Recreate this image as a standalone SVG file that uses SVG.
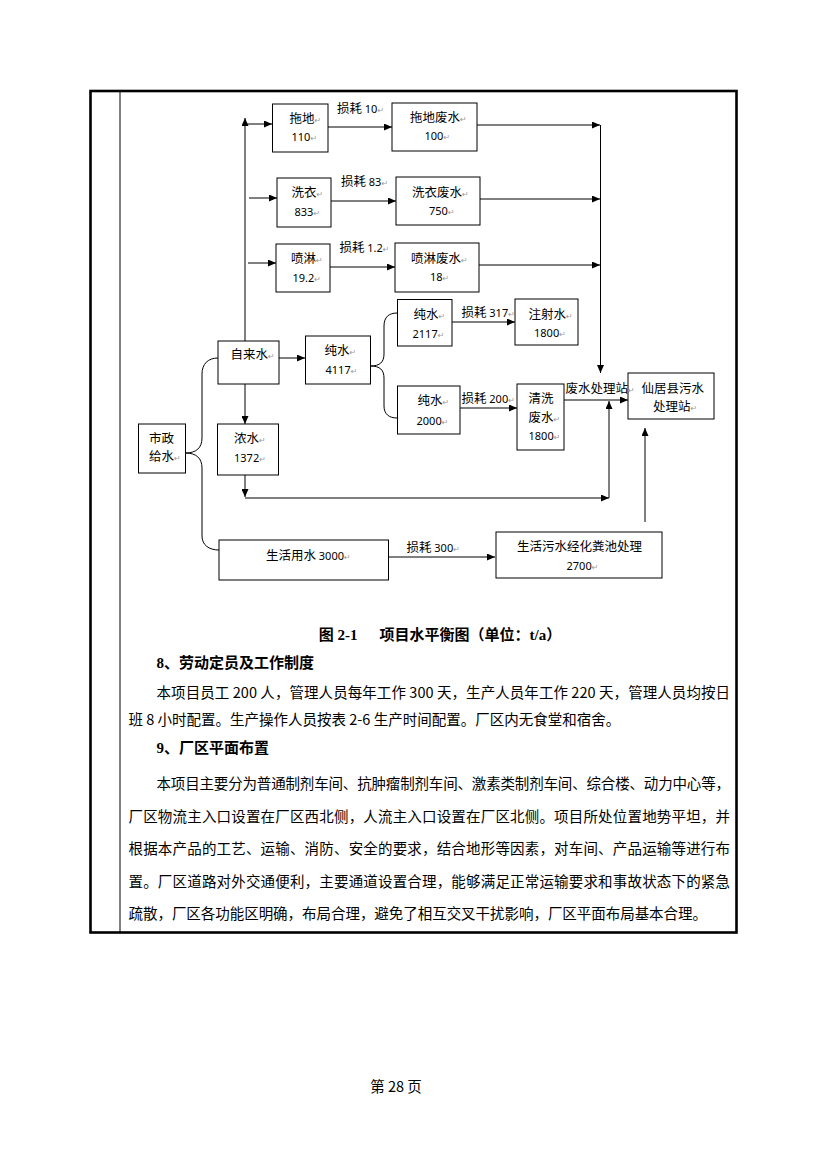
<svg xmlns="http://www.w3.org/2000/svg" width="827" height="1170" viewBox="0 0 827 1170">
<style>
.bx{fill:#fff;stroke:#000;stroke-width:1}
.t{font-family:"Noto Sans CJK SC","Noto Sans",sans-serif;font-size:12.5px;fill:#000}
.n{font-family:"Noto Sans","Noto Sans CJK SC",sans-serif;font-size:11px;fill:#000}
.pm{font-family:"DejaVu Sans",sans-serif;font-size:8px;fill:#999}
.ln{fill:none;stroke:#000;stroke-width:1}
.ar{marker-end:url(#ah)}
.p{font-family:"Noto Sans CJK SC",sans-serif;font-size:14.5px;fill:#000}
.h{font-family:"Liberation Serif","Noto Sans CJK SC",serif;font-size:15px;font-weight:bold;fill:#000}
</style>
<defs>
<marker id="ah" markerUnits="userSpaceOnUse" markerWidth="8" markerHeight="7" refX="8" refY="3.5" orient="auto">
<path d="M0,0 L8,3.5 L0,7 z" fill="#000"/>
</marker>
</defs>
<rect width="827" height="1170" fill="#fff"/>
<g id="frame">
<rect x="90.5" y="91" width="646" height="841.5" fill="none" stroke="#000" stroke-width="2.6"/>
<line x1="120" y1="91" x2="120" y2="932.5" stroke="#000" stroke-width="1"/>
</g>
<g id="connectors">
<path class="ln ar" d="M245,341 L245,118"/>
<path class="ln ar" d="M245,124 L272,124"/>
<path class="ln ar" d="M249,198 L277,198"/>
<path class="ln ar" d="M248,263 L276,263"/>
<path class="ln ar" d="M328,127 L392,127"/>
<path class="ln ar" d="M331,201 L396,201"/>
<path class="ln ar" d="M330,267 L395,267"/>
<path class="ln ar" d="M477,125 L600,125"/>
<path class="ln ar" d="M480,199 L600,199"/>
<path class="ln ar" d="M479,265 L600,265"/>
<path class="ln ar" d="M600.5,125 L600.5,373"/>
<path class="ln ar" d="M279,358 L305,358"/>
<path class="ln" d="M370.5,366 C380,366 384,362 384,354 L384,326 C384,317 389,313 397,313"/>
<path class="ln" d="M370.5,366 C380,366 384,370 384,378 L384,406 C384,414 389,418 397,418"/>
<path class="ln ar" d="M452,322 L515,322"/>
<path class="ln ar" d="M460,408 L517,408"/>
<path class="ln ar" d="M564,400 L628,400"/>
<path class="ln ar" d="M245,384 L245,424"/>
<path class="ln ar" d="M245,475 L245,497"/>
<path class="ln ar" d="M245,498 L609,498"/>
<path class="ln ar" d="M609,498 L609,401"/>
<path class="ln" d="M185.5,453 C196,453 202,448 202,438 L202,374 C202,364 208,358 218,358"/>
<path class="ln" d="M185.5,453 C196,453 202,458 202,468 L202,536 C202,545 209,550 219,550"/>
<path class="ln ar" d="M389,557 L495,557"/>
<path class="ln ar" d="M645,522 L645,428"/>
</g>
<g id="n-tuodi"><rect class="bx" x="272.5" y="104" width="55.5" height="48"/><text class="t" x="289.5" y="123">拖地<tspan class="pm">↵</tspan></text><text class="n" x="291.5" y="141">110<tspan class="pm">↵</tspan></text></g>
<g id="n-tuodifs"><rect class="bx" x="392" y="103" width="85" height="48"/><text class="t" x="410" y="122">拖地废水<tspan class="pm">↵</tspan></text><text class="n" x="424.5" y="140">100<tspan class="pm">↵</tspan></text></g>
<g id="n-xiyi"><rect class="bx" x="277" y="178" width="54" height="49"/><text class="t" x="291.5" y="197">洗衣<tspan class="pm">↵</tspan></text><text class="n" x="294.5" y="215.5">833<tspan class="pm">↵</tspan></text></g>
<g id="n-xiyifs"><rect class="bx" x="396" y="177" width="84" height="48"/><text class="t" x="412" y="197">洗衣废水<tspan class="pm">↵</tspan></text><text class="n" x="429" y="215">750<tspan class="pm">↵</tspan></text></g>
<g id="n-penlin"><rect class="bx" x="276" y="244" width="54" height="48"/><text class="t" x="291" y="263">喷淋<tspan class="pm">↵</tspan></text><text class="n" x="292.5" y="282">19.2<tspan class="pm">↵</tspan></text></g>
<g id="n-penlinfs"><rect class="bx" x="395" y="243" width="84" height="49"/><text class="t" x="411" y="262.5">喷淋废水<tspan class="pm">↵</tspan></text><text class="n" x="430" y="281">18<tspan class="pm">↵</tspan></text></g>
<g id="n-chun2117"><rect class="bx" x="397.5" y="299.5" width="54.5" height="46.5"/><text class="t" x="413.5" y="318.5">纯水<tspan class="pm">↵</tspan></text><text class="n" x="412.5" y="338">2117<tspan class="pm">↵</tspan></text></g>
<g id="n-zhushe"><rect class="bx" x="515" y="299" width="63" height="46"/><text class="t" x="528.5" y="318.5">注射水<tspan class="pm">↵</tspan></text><text class="n" x="534" y="337">1800<tspan class="pm">↵</tspan></text></g>
<g id="n-zilai"><rect class="bx" x="218" y="341" width="61" height="43"/><text class="t" x="230.5" y="359">自来水<tspan class="pm">↵</tspan></text></g>
<g id="n-chun4117"><rect class="bx" x="305.5" y="336" width="65" height="48"/><text class="t" x="324.5" y="355">纯水<tspan class="pm">↵</tspan></text><text class="n" x="325.5" y="374">4117<tspan class="pm">↵</tspan></text></g>
<g id="n-chun2000"><rect class="bx" x="397.5" y="386" width="62.5" height="48"/><text class="t" x="417.5" y="404.5">纯水<tspan class="pm">↵</tspan></text><text class="n" x="416.5" y="424.5">2000<tspan class="pm">↵</tspan></text></g>
<g id="n-qingxi"><rect class="bx" x="517" y="384" width="47" height="66"/><text class="t" x="528.5" y="403">清洗</text><text class="t" x="528.5" y="422">废水<tspan class="pm">↵</tspan></text><text class="n" x="528.5" y="439.5">1800<tspan class="pm">↵</tspan></text></g>
<g id="n-xianju"><rect class="bx" x="628" y="373" width="86" height="46"/><text class="t" x="641.5" y="393">仙居县污水</text><text class="t" x="653" y="411">处理站<tspan class="pm">↵</tspan></text></g>
<g id="n-shizheng"><rect class="bx" x="138.5" y="424" width="47" height="49"/><text class="t" x="149" y="443">市政</text><text class="t" x="149" y="461">给水<tspan class="pm">↵</tspan></text></g>
<g id="n-nong"><rect class="bx" x="217.5" y="424" width="61" height="51"/><text class="t" x="234" y="443">浓水<tspan class="pm">↵</tspan></text><text class="n" x="234" y="462">1372<tspan class="pm">↵</tspan></text></g>
<g id="n-shenghuo"><rect class="bx" x="219" y="540" width="169.5" height="40"/><text class="t" x="266" y="559.5">生活用水 <tspan class="n">3000</tspan><tspan class="pm">↵</tspan></text></g>
<g id="n-huafen"><rect class="bx" x="496" y="532" width="166" height="46"/><text class="t" x="517" y="551">生活污水经化粪池处理</text><text class="n" x="566.5" y="569.5">2700<tspan class="pm">↵</tspan></text></g>
<g id="labels">
<text class="t" x="337" y="113">损耗 <tspan class="n">10</tspan><tspan class="pm">↵</tspan></text>
<text class="t" x="341" y="185.5">损耗 <tspan class="n">83</tspan><tspan class="pm">↵</tspan></text>
<text class="t" x="339.5" y="252">损耗 <tspan class="n">1.2</tspan><tspan class="pm">↵</tspan></text>
<text class="t" x="461.5" y="317">损耗 <tspan class="n">317</tspan><tspan class="pm">↵</tspan></text>
<text class="t" x="461.5" y="403">损耗 <tspan class="n">200</tspan><tspan class="pm">↵</tspan></text>
<text class="t" x="565.5" y="393">废水处理站<tspan class="pm">↵</tspan></text>
<text class="t" x="406.5" y="552">损耗 <tspan class="n">300</tspan><tspan class="pm">↵</tspan></text>
</g>
<g id="caption">
<text class="h" x="440" y="640" text-anchor="middle" font-size="14">图 2-1<tspan dx="22">项目水平衡图（单位：t/a）</tspan></text>
</g>
<g id="body">
<text class="h" x="156.5" y="668">8、劳动定员及工作制度</text>
<text class="p" x="156.5" y="698" textLength="573.5" lengthAdjust="spacing">本项目员工 200 人，管理人员每年工作 300 天，生产人员年工作 220 天，管理人员均按日</text>
<text class="p" x="128.5" y="725">班 8 小时配置。生产操作人员按表 2-6 生产时间配置。厂区内无食堂和宿舍。</text>
<text class="h" x="156.5" y="753">9、厂区平面布置</text>
<text class="p" x="156.5" y="789" textLength="573.5" lengthAdjust="spacing">本项目主要分为普通制剂车间、抗肿瘤制剂车间、激素类制剂车间、综合楼、动力中心等，</text>
<text class="p" x="128.5" y="822" textLength="601.5" lengthAdjust="spacing">厂区物流主入口设置在厂区西北侧，人流主入口设置在厂区北侧。项目所处位置地势平坦，并</text>
<text class="p" x="128.5" y="854" textLength="601.5" lengthAdjust="spacing">根据本产品的工艺、运输、消防、安全的要求，结合地形等因素，对车间、产品运输等进行布</text>
<text class="p" x="128.5" y="887" textLength="601.5" lengthAdjust="spacing">置。厂区道路对外交通便利，主要通道设置合理，能够满足正常运输要求和事故状态下的紧急</text>
<text class="p" x="128.5" y="919" textLength="578.5" lengthAdjust="spacing">疏散，厂区各功能区明确，布局合理，避免了相互交叉干扰影响，厂区平面布局基本合理。</text>
</g>
<g id="footer">
<text class="p" x="396" y="1092" text-anchor="middle" font-size="13">第 28 页</text>
</g>
</svg>
